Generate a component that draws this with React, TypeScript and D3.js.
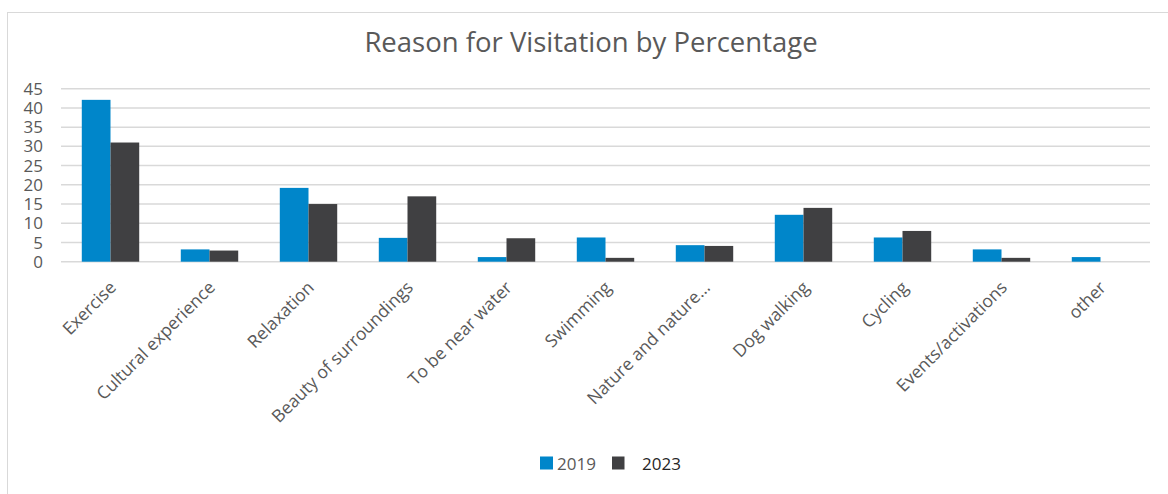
import React from "react";
import * as d3 from "d3";

const categories = [
  "Exercise",
  "Cultural experience",
  "Relaxation",
  "Beauty of surroundings",
  "To be near water",
  "Swimming",
  "Nature and nature…",
  "Dog walking",
  "Cycling",
  "Events/activations",
  "other",
];
const values2019 = [42.1, 3.2, 19.2, 6.2, 1.2, 6.3, 4.3, 12.2, 6.3, 3.2, 1.2];
const values2023 = [31, 2.9, 15, 17, 6.1, 1, 4.1, 14, 8, 1, 0];
const seriesNames = ["2019", "2023"];
const yTicks = [0, 5, 10, 15, 20, 25, 30, 35, 40, 45];

const W = 1168;
const H = 494;
const FONT = "'Open Sans', sans-serif";
const BLUE = "#0086CA";
const DARK = "#404042";
const GREY_TEXT = "#595959";
const GRID = "#D9D9D9";

export default function App() {
  const x0 = d3
    .scaleBand<string>()
    .domain(categories)
    .range([61, 1150])
    .paddingInner(0.42)
    .paddingOuter(0.21);
  const x1 = d3
    .scaleBand<string>()
    .domain(seriesNames)
    .range([0, x0.bandwidth()]);
  const y = d3.scaleLinear().domain([0, 45]).range([261.7, 88.7]);
  const colors = d3.scaleOrdinal<string, string>().domain(seriesNames).range([BLUE, DARK]);
  const seriesValues = [values2019, values2023];

  return (
    <svg
      width={W}
      height={H}
      style={{ position: "absolute", left: 0, top: 0, background: "#fff" }}
      fontFamily={FONT}
    >
      <rect x={7.5} y={12.5} width={1200} height={600} fill="#fff" stroke={GRID} strokeWidth={1} />
      <text x={591} y={52} textAnchor="middle" fontSize={27.5} fill={GREY_TEXT}>
        Reason for Visitation by Percentage
      </text>
      {yTicks.map((t) => (
        <g key={t}>
          <line x1={61} x2={1150} y1={y(t)} y2={y(t)} stroke={GRID} strokeWidth={1.5} />
          <text x={43} y={y(t)} dy="0.36em" textAnchor="end" fontSize={17} fill={GREY_TEXT}>
            {t}
          </text>
        </g>
      ))}
      {categories.map((c, i) => (
        <g key={c} transform={`translate(${x0(c)},0)`}>
          {seriesNames.map((s, j) => {
            const v = seriesValues[j][i];
            if (!v) return null;
            return (
              <rect
                key={s}
                x={x1(s)}
                y={y(v)}
                width={x1.bandwidth()}
                height={y(0) - y(v)}
                fill={colors(s)}
              />
            );
          })}
        </g>
      ))}
      {categories.map((c) => {
        const cx = (x0(c) as number) + x0.bandwidth() / 2 - 2;
        const cy = 280;
        return (
          <text
            key={c}
            transform={`translate(${cx},${cy}) rotate(-45)`}
            textAnchor="end"
            dy="0.7em"
            fontSize={17.5}
            fill={GREY_TEXT}
          >
            {c}
          </text>
        );
      })}
      <g>
        <rect x={540} y={456.5} width={13} height={13} fill={BLUE} />
        <text x={557} y={469.5} fontSize={17} fill={GREY_TEXT}>
          {seriesNames[0]}
        </text>
        <rect x={612} y={456.5} width={12.5} height={13} fill={DARK} />
        <text x={642} y={469.5} fontSize={17} fill="#262626">
          {seriesNames[1]}
        </text>
      </g>
    </svg>
  );
}
